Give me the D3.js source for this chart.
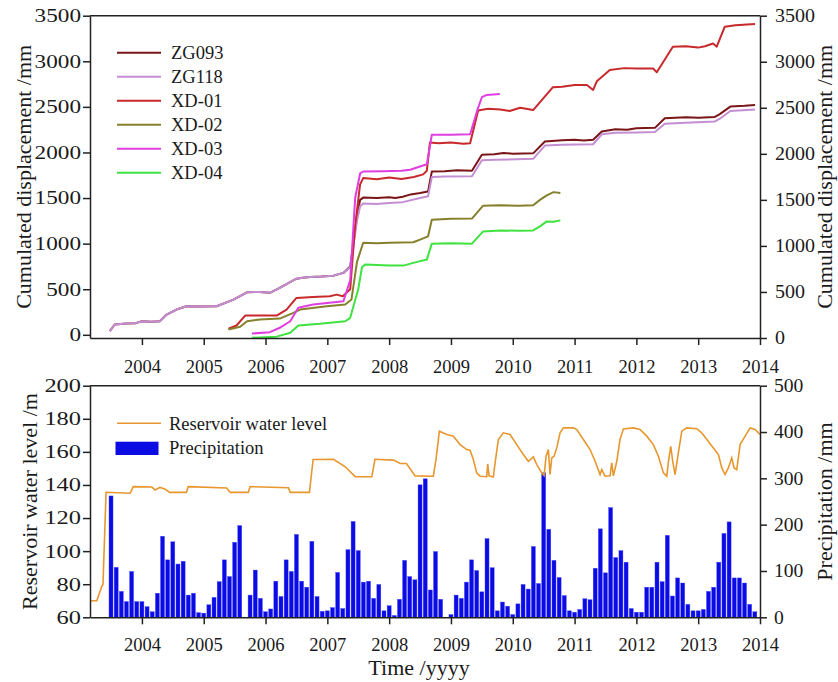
<!DOCTYPE html>
<html>
<head>
<meta charset="utf-8">
<script src="https://cdn.jsdelivr.net/npm/d3@7"></script>
<style>
  body { margin: 0; background: #fff; }
  text { font-family: "Liberation Serif", "Times New Roman", serif; fill: #1a1a1a; }
</style>
</head>
<body>
<svg id="chart" width="838" height="682"></svg>
<script>
// cumulated displacement, [decimal year, mm]
var zg093 = [[2003.48,40],[2003.56,113],[2003.75,124],[2003.9,128],[2004.00,149],[2004.15,142],[2004.29,149],[2004.40,222],[2004.56,277],[2004.72,313],[2004.95,310],[2005.21,313],[2005.48,386],[2005.70,466],[2005.9,470],[2006.07,460],[2006.23,514],[2006.50,616],[2006.6,625],[2006.72,635],[2006.9,640],[2007.10,649],[2007.26,679],[2007.37,750],[2007.48,1300],[2007.53,1480],[2007.58,1505],[2007.8,1500],[2008.0,1510],[2008.1,1500],[2008.22,1515],[2008.35,1540],[2008.5,1555],[2008.63,1572],[2008.69,1790],[2008.9,1795],[2009.1,1805],[2009.34,1800],[2009.50,1974],[2009.7,1980],[2009.85,1995],[2010.0,1985],[2010.33,1990],[2010.52,2120],[2010.8,2135],[2011.0,2140],[2011.15,2130],[2011.30,2140],[2011.44,2229],[2011.66,2255],[2011.85,2250],[2012.0,2266],[2012.30,2270],[2012.46,2376],[2012.8,2385],[2013.0,2380],[2013.27,2390],[2013.35,2420],[2013.52,2503],[2013.75,2511],[2013.92,2520]];
var zg118 = [[2003.48,40],[2003.56,113],[2003.75,124],[2003.9,128],[2004.00,149],[2004.15,142],[2004.29,149],[2004.40,222],[2004.56,277],[2004.72,313],[2004.95,310],[2005.21,313],[2005.48,386],[2005.70,466],[2005.9,470],[2006.07,460],[2006.23,514],[2006.50,616],[2006.6,625],[2006.72,635],[2006.9,640],[2007.10,649],[2007.26,679],[2007.37,740],[2007.48,1250],[2007.53,1410],[2007.58,1440],[2007.8,1435],[2008.0,1445],[2008.22,1455],[2008.5,1500],[2008.63,1520],[2008.69,1730],[2008.9,1735],[2009.34,1740],[2009.50,1915],[2009.7,1920],[2010.33,1930],[2010.52,2075],[2010.8,2085],[2011.30,2090],[2011.44,2200],[2011.66,2215],[2012.0,2220],[2012.30,2225],[2012.46,2315],[2012.8,2325],[2013.27,2340],[2013.35,2370],[2013.52,2455],[2013.92,2470]];
var xd01 = [[2005.40,66],[2005.53,102],[2005.67,211],[2006.18,211],[2006.34,277],[2006.50,405],[2006.77,416],[2007.04,423],[2007.15,441],[2007.25,423],[2007.37,500],[2007.45,1200],[2007.53,1650],[2007.58,1719],[2007.8,1705],[2008.0,1725],[2008.2,1710],[2008.4,1730],[2008.55,1760],[2008.61,1800],[2008.66,2110],[2008.8,2100],[2009.0,2110],[2009.2,2095],[2009.31,2100],[2009.44,2460],[2009.6,2480],[2009.8,2470],[2009.95,2455],[2010.12,2490],[2010.33,2465],[2010.65,2716],[2010.8,2720],[2011.0,2740],[2011.20,2740],[2011.30,2686],[2011.36,2780],[2011.57,2905],[2011.8,2925],[2012.0,2920],[2012.27,2920],[2012.33,2880],[2012.59,3160],[2012.8,3165],[2013.0,3150],[2013.11,3165],[2013.24,3195],[2013.30,3160],[2013.43,3379],[2013.6,3395],[2013.92,3409]];
var xd02 = [[2005.40,58],[2005.59,88],[2005.70,149],[2005.91,168],[2006.23,178],[2006.45,241],[2006.56,277],[2006.99,313],[2007.29,332],[2007.39,387],[2007.48,800],[2007.58,1010],[2007.8,1005],[2008.0,1010],[2008.39,1015],[2008.50,1044],[2008.63,1080],[2008.69,1262],[2009.0,1273],[2009.34,1275],[2009.52,1416],[2009.8,1420],[2010.1,1415],[2010.33,1420],[2010.44,1480],[2010.55,1530],[2010.66,1565],[2010.77,1555]];
var xd03 = [[2005.78,14],[2006.07,29],[2006.23,77],[2006.40,149],[2006.53,296],[2006.77,332],[2007.26,368],[2007.37,600],[2007.45,1500],[2007.53,1770],[2007.58,1791],[2007.9,1795],[2008.2,1800],[2008.34,1810],[2008.50,1846],[2008.61,1870],[2008.69,2193],[2009.0,2195],[2009.31,2200],[2009.42,2450],[2009.50,2606],[2009.58,2631],[2009.79,2642]];
var xd04 = [[2005.78,-33],[2006.18,-20],[2006.40,22],[2006.53,102],[2006.88,120],[2007.29,149],[2007.37,186],[2007.50,500],[2007.56,740],[2007.61,770],[2008.0,760],[2008.23,759],[2008.39,789],[2008.61,825],[2008.69,1000],[2009.0,1005],[2009.34,1000],[2009.52,1134],[2009.8,1145],[2010.1,1140],[2010.33,1145],[2010.44,1189],[2010.55,1244],[2010.66,1240],[2010.77,1255]];

var seriesNames = ["ZG093", "ZG118", "XD-01", "XD-02", "XD-03", "XD-04"];
var seriesData = [zg093, zg118, xd01, xd02, xd03, xd04];
var seriesColors = ["#7a1518", "#c48ed2", "#c8292b", "#86802c", "#e03ee0", "#3fe23f"];

// reservoir water level, [decimal year, m]
var waterLevel = [[2003.16,70],[2003.27,70],[2003.35,78.6],[2003.37,80],[2003.42,135.6],[2003.81,135],[2003.86,139],[2004.16,138.8],[2004.21,137],[2004.29,138.5],[2004.37,137.5],[2004.45,135.5],[2004.72,135.5],[2004.75,139],[2005.37,138.2],[2005.43,135.5],[2005.72,135.5],[2005.75,139],[2006.37,138.3],[2006.40,135.5],[2006.71,135.5],[2006.77,155.4],[2007.10,155.5],[2007.29,151],[2007.45,145],[2007.72,145],[2007.77,155.5],[2008.07,155],[2008.18,153],[2008.28,153],[2008.42,145.5],[2008.715,145.3],[2008.759,155.8],[2008.812,172.5],[2008.932,170.5],[2009.039,169.5],[2009.147,164.4],[2009.255,161.4],[2009.309,161],[2009.362,155.4],[2009.417,147.3],[2009.471,145.3],[2009.579,145],[2009.595,152.7],[2009.616,145.5],[2009.686,144.8],[2009.713,153],[2009.767,167.5],[2009.848,171.5],[2009.956,170.5],[2010.064,164.4],[2010.171,158.4],[2010.252,154.3],[2010.333,157],[2010.388,152.3],[2010.469,147.3],[2010.506,145.7],[2010.539,157.4],[2010.576,161.4],[2010.603,146.3],[2010.631,156.4],[2010.668,157.4],[2010.712,162.4],[2010.765,171.5],[2010.819,174.5],[2010.980,174.5],[2011.035,173.5],[2011.142,167.5],[2011.251,161.4],[2011.332,154.3],[2011.412,146.3],[2011.440,149.3],[2011.493,145.3],[2011.574,145.5],[2011.602,153.3],[2011.628,145.5],[2011.683,154.3],[2011.736,167.5],[2011.789,173.9],[2011.951,174.5],[2012.060,173.5],[2012.168,169.5],[2012.275,164.4],[2012.356,157.4],[2012.437,147.3],[2012.492,145.3],[2012.518,154],[2012.556,163.4],[2012.589,154],[2012.626,146.3],[2012.679,159.4],[2012.735,172.5],[2012.815,174.5],[2012.977,174],[2013.058,171.5],[2013.139,167.5],[2013.246,162.4],[2013.327,158.4],[2013.382,150.3],[2013.435,146.3],[2013.488,150.3],[2013.543,156.4],[2013.581,150.3],[2013.624,149.3],[2013.678,164.4],[2013.759,169.5],[2013.840,174.5],[2013.921,173.5],[2014.0,170.5]];

// monthly precipitation (mm), July 2003 .. December 2013
var precipStartYear = 2003, precipStartMonth = 6;
var precip = [262,108,56,34,99,34,
  34,23,12,52,175,124,163,115,121,48,52,10,
  9,27,43,77,124,88,162,198,0,48,102,41,
  12,18,78,45,124,99,179,78,65,164,45,13,
  14,21,97,19,146,207,144,76,78,41,71,14,
  25,4,39,123,88,81,286,299,59,142,39,0,
  6,48,41,76,124,101,55,170,107,14,33,24,
  6,29,71,61,153,73,312,190,123,86,47,14,
  11,17,40,38,106,191,96,237,129,144,119,19,
  11,11,65,65,119,77,177,46,85,74,28,14,
  14,17,56,65,119,181,206,85,85,74,28,12];

var years = d3.range(2004, 2015);
var dispTicks = d3.range(0, 3501, 500);
var levelTicks = d3.range(60, 201, 20);
var precipTicks = d3.range(0, 501, 100);

var svg = d3.select("#chart");
var left = 90, right = 760;

var x = d3.scaleLinear().domain([2003.16, 2014]).range([left, right]);

// panel 1 scales
var top1 = 15.7, bot1 = 338;
var yL = d3.scaleLinear().domain([-35, 3500]).range([bot1, top1]);
var yR = d3.scaleLinear().domain([0, 3500]).range([bot1, top1]);

// panel 2 scales
var top2 = 385.7, bot2 = 617.3;
var wL = d3.scaleLinear().domain([60, 200]).range([bot2, top2]);
var pR = d3.scaleLinear().domain([0, 500]).range([bot2, top2]);

function styleAxis(g, digitW) {
  g.select(".domain").attr("stroke", "#222").attr("stroke-width", 1.5);
  g.selectAll(".tick line").attr("stroke", "#222").attr("stroke-width", 1.5);
  g.selectAll(".tick text").attr("fill", "#1a1a1a")
    .style("font-size", "18.5px").style("font-family", "'Liberation Serif', serif");
  if (digitW) {
    g.selectAll(".tick text")
      .attr("textLength", d => String(d).length * digitW)
      .attr("lengthAdjust", "spacingAndGlyphs");
  }
}

var fmt = d3.format("d");

// ---------- top panel ----------
var line1 = d3.line().x(d => x(d[0])).y(d => yL(d[1]));

svg.append("g").selectAll("path")
  .data(seriesData)
  .join("path")
  .attr("d", line1)
  .attr("fill", "none")
  .attr("stroke", (d, i) => seriesColors[i])
  .attr("stroke-width", 2)
  .attr("stroke-linejoin", "round");

svg.append("line").attr("x1", left).attr("x2", right).attr("y1", top1).attr("y2", top1)
  .attr("stroke", "#222").attr("stroke-width", 1.5);

svg.append("g").attr("transform", `translate(0,${bot1})`)
  .call(d3.axisBottom(x).tickValues(years).tickFormat(fmt).tickSize(7).tickSizeOuter(0).tickPadding(15))
  .call(g => styleAxis(g));
svg.append("g").attr("transform", `translate(${left},0)`)
  .call(d3.axisLeft(yL).tickValues(dispTicks).tickFormat(fmt).tickSize(7).tickSizeOuter(0).tickPadding(2))
  .call(g => styleAxis(g, 11.6));
svg.append("g").attr("transform", `translate(${right},0)`)
  .call(d3.axisRight(yR).tickValues(dispTicks).tickFormat(fmt).tickSize(7).tickSizeOuter(0).tickPadding(8))
  .call(g => styleAxis(g, 10));

// legend
var leg1 = svg.append("g").selectAll("g").data(seriesNames).join("g")
  .attr("transform", (d, i) => `translate(117,${52.7 + i * 24})`);
leg1.append("line").attr("x1", 0).attr("x2", 44)
  .attr("stroke", (d, i) => seriesColors[i]).attr("stroke-width", 2);
leg1.append("text").attr("x", 54).attr("y", 6.5).style("font-size", "18.5px").text(d => d);

svg.append("text")
  .attr("transform", `translate(31,${(top1 + bot1) / 2}) rotate(-90)`)
  .attr("text-anchor", "middle").style("font-size", "22px")
  .text("Cumulated displacement /mm");
svg.append("text")
  .attr("transform", `translate(832,${(top1 + bot1) / 2}) rotate(-90)`)
  .attr("text-anchor", "middle").style("font-size", "22px")
  .text("Cumulated displacement /mm");

// ---------- bottom panel ----------
var monthW = x(2004 + 1 / 12) - x(2004);
var barW = monthW * 0.78;

svg.append("g").selectAll("rect")
  .data(precip)
  .join("rect")
  .attr("x", (d, i) => x(precipStartYear + (precipStartMonth + i) / 12) - barW / 2)
  .attr("y", d => pR(d))
  .attr("width", barW)
  .attr("height", d => pR(0) - pR(d))
  .attr("fill", "#0b0be3")
  .attr("stroke", "#4b4bff")
  .attr("stroke-width", 0.4);

svg.append("path")
  .datum(waterLevel)
  .attr("d", d3.line().x(d => x(d[0])).y(d => wL(d[1])))
  .attr("fill", "none")
  .attr("stroke", "#e8962e")
  .attr("stroke-width", 1.6);

svg.append("line").attr("x1", left).attr("x2", right).attr("y1", top2).attr("y2", top2)
  .attr("stroke", "#222").attr("stroke-width", 1.5);

svg.append("g").attr("transform", `translate(0,${bot2})`)
  .call(d3.axisBottom(x).tickValues(years).tickFormat(fmt).tickSize(7).tickSizeOuter(0).tickPadding(14))
  .call(g => styleAxis(g));
svg.append("g").attr("transform", `translate(${left},0)`)
  .call(d3.axisLeft(wL).tickValues(levelTicks).tickFormat(fmt).tickSize(7).tickSizeOuter(0).tickPadding(2))
  .call(g => styleAxis(g, 12.2));
svg.append("g").attr("transform", `translate(${right},0)`)
  .call(d3.axisRight(pR).tickValues(precipTicks).tickFormat(fmt).tickSize(7).tickSizeOuter(0).tickPadding(7))
  .call(g => styleAxis(g, 9.8));

// legend
var leg2 = svg.append("g");
leg2.append("line").attr("x1", 117).attr("x2", 161).attr("y1", 423.3).attr("y2", 423.3)
  .attr("stroke", "#e8962e").attr("stroke-width", 1.6);
leg2.append("text").attr("x", 169).attr("y", 430).style("font-size", "18.5px").text("Reservoir water level");
leg2.append("rect").attr("x", 115.5).attr("y", 441.7).attr("width", 43).attr("height", 13.3)
  .attr("fill", "#0b0be3");
leg2.append("text").attr("x", 169).attr("y", 454).style("font-size", "18.5px").text("Precipitation");

svg.append("text")
  .attr("transform", `translate(37,${(top2 + bot2) / 2}) rotate(-90)`)
  .attr("text-anchor", "middle").style("font-size", "22px")
  .text("Reservoir water level /m");
svg.append("text")
  .attr("transform", `translate(832,${(top2 + bot2) / 2}) rotate(-90)`)
  .attr("text-anchor", "middle").style("font-size", "22px")
  .text("Precipitation /mm");

svg.append("text").attr("x", 419).attr("y", 675)
  .attr("text-anchor", "middle").style("font-size", "22px")
  .text("Time /yyyy");
</script>
</body>
</html>
